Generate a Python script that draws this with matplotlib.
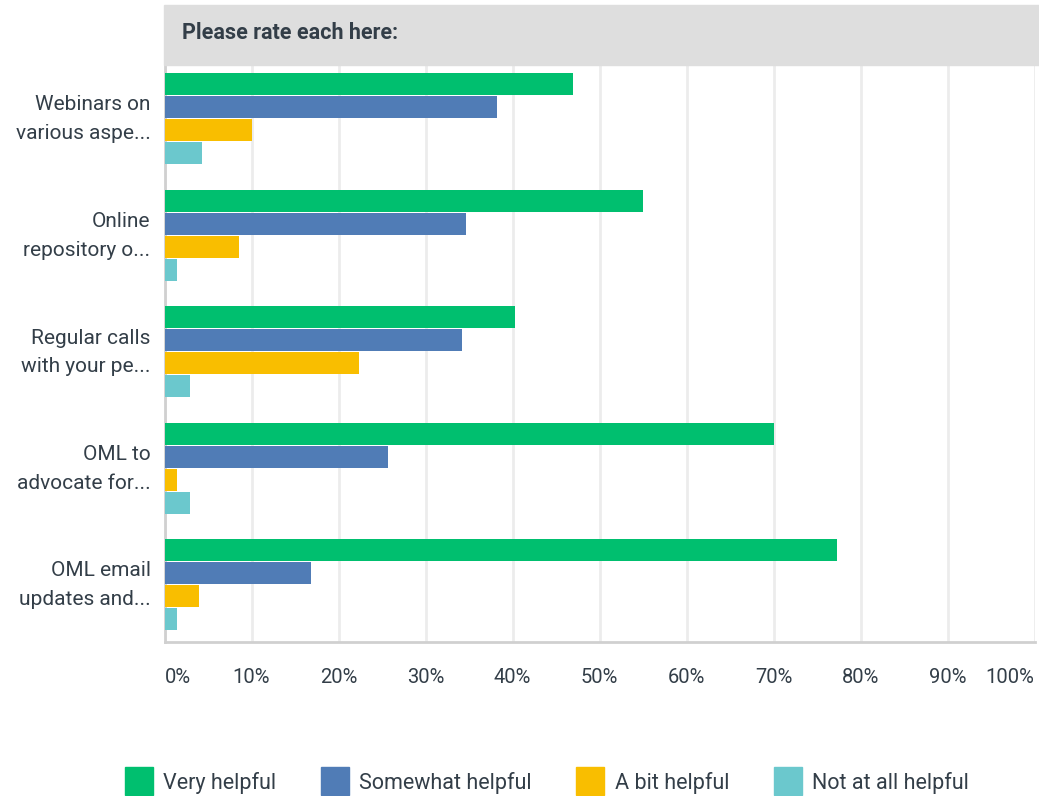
import numpy as np
import matplotlib.pyplot as plt
import matplotlib.transforms as mtrans
from matplotlib.patches import Rectangle
from matplotlib.lines import Line2D

plt.rcParams['font.family'] = ['Roboto', 'DejaVu Sans']

categories = ['Webinars on\nvarious aspe...', 'Online\nrepository o...', 'Regular calls\nwith your pe...',
              'OML to\nadvocate for...', 'OML email\nupdates and...']
series = ['Very helpful', 'Somewhat helpful', 'A bit helpful', 'Not at all helpful']
very = [46.9, 55.0, 40.3, 70.1, 77.3]
somewhat = [38.2, 34.6, 34.2, 25.7, 16.8]
a_bit = [10.1, 8.6, 22.3, 1.4, 4.0]
not_at_all = [4.3, 1.4, 2.9, 2.9, 1.4]
ticks = [0, 10, 20, 30, 40, 50, 60, 70, 80, 90, 100]
tick_labels = ['0%', '10%', '20%', '30%', '40%', '50%', '60%', '70%', '80%', '90%', '100%']

colors = ['#00bf6f', '#507cb6', '#f9be00', '#6bc8cd']
text_col = '#333e48'

W, H = 1039, 796
fig = plt.figure(figsize=(W / 100, H / 100), dpi=100)

# axes box in pixels
left, right, top, bottom = 164.5, 1034.5, 65, 642
ax = fig.add_axes([left / W, 1 - bottom / H, (right - left) / W, (bottom - top) / H])

period = 116.5
step = 23 / period
bh = 22 / period
centers = np.arange(len(categories)) + 53.5 / period
vals = [very, somewhat, a_bit, not_at_all]
for k, v in enumerate(vals):
    ax.barh(centers + (k - 1.5) * step, v, height=bh, color=colors[k], zorder=3)

ax.set_xlim(0, 100)
ax.set_ylim((bottom - top) / period, 0)
ax.set_xticks(ticks)
ax.set_xticklabels(tick_labels, fontsize=14.5, color=text_col)
ax.set_yticks(centers)
ax.set_yticklabels(categories, fontsize=15, color=text_col, linespacing=1.65)
ax.tick_params(axis='both', length=0)
ax.tick_params(axis='x', pad=19)
ax.tick_params(axis='y', pad=10)

# first and last x labels sit inside the axis ends
xl = ax.get_xticklabels()
xl[0].set_ha('left')
xl[-1].set_ha('right')
up = mtrans.ScaledTranslation(0, 6 / 100, fig.dpi_scale_trans)
for lbl in ax.get_yticklabels():
    lbl.set_transform(lbl.get_transform() + up)

ax.grid(axis='x', color='#ececec', linewidth=2, zorder=0)
for s in ['top', 'right']:
    ax.spines[s].set_visible(False)
ax.spines['left'].set_color('#d0d0d0')
ax.spines['bottom'].set_color('#d0d0d0')
ax.spines['left'].set_linewidth(2)
ax.spines['bottom'].set_linewidth(2)

# header band
fig.patches.append(Rectangle((164 / W, 1 - 65 / H), (W - 164) / W, 60 / H,
                             transform=fig.transFigure, color='#dedede', zorder=0))
fig.text(182 / W, 1 - 33 / H, 'Please rate each here:', fontsize=15.5, fontweight='bold',
         color=text_col, va='center', ha='left')

# legend
handles = [Line2D([0], [0], marker='s', color='none', markerfacecolor=c, markeredgecolor=c,
                  markersize=20) for c in colors]
leg = fig.legend(handles, series, loc='center', bbox_to_anchor=(547 / W, 1 - 783 / H), ncol=4,
                 frameon=False, fontsize=15.5, handlelength=1.3, handletextpad=0.5,
                 columnspacing=2.05, labelcolor=text_col)

fig.savefig('out.png', dpi=100)
